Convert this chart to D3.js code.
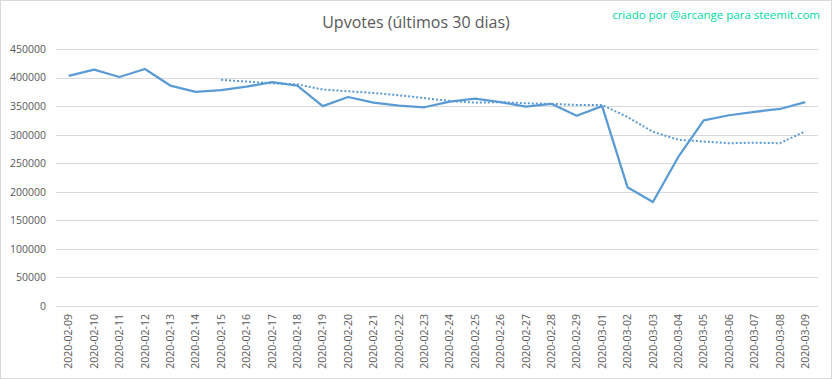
<!DOCTYPE html>
<html>
<head>
<meta charset="utf-8">
<script src="https://cdn.jsdelivr.net/npm/d3@7"></script>
<style>
  body { margin: 0; background: #fff; }
  text { font-family: "Open Sans", "Liberation Sans", sans-serif; }
</style>
</head>
<body>
<div id="chart"></div>
<script>
const dates = [
  "2020-02-09", "2020-02-10", "2020-02-11", "2020-02-12", "2020-02-13",
  "2020-02-14", "2020-02-15", "2020-02-16", "2020-02-17", "2020-02-18",
  "2020-02-19", "2020-02-20", "2020-02-21", "2020-02-22", "2020-02-23",
  "2020-02-24", "2020-02-25", "2020-02-26", "2020-02-27", "2020-02-28",
  "2020-02-29", "2020-03-01", "2020-03-02", "2020-03-03", "2020-03-04",
  "2020-03-05", "2020-03-06", "2020-03-07", "2020-03-08", "2020-03-09"
];

const upvotes = [
  403000, 414000, 401000, 415000, 386000, 375000, 378000, 384000, 392000, 386000,
  350000, 366000, 356000, 351000, 348000, 358000, 363000, 357000, 349000, 354000,
  333000, 350000, 208000, 182000, 261000, 325000, 334000, 340000, 345000, 357000
];

// tendance (moyenne mobile), à partir du 2020-02-15
const trend = [
  null, null, null, null, null, null,
  396000, 393000, 390000, 388000, 379000, 376000, 373000, 369000, 364000, 359000,
  356000, 357000, 355000, 354000, 352000, 352000, 331000, 305000, 291000, 288000,
  285000, 286000, 285000, 306000
];

const yTicks = [0, 50000, 100000, 150000, 200000, 250000, 300000, 350000, 400000, 450000];

const width = 832;
const height = 379;
const margin = { top: 49, right: 14, bottom: 73, left: 56 };

const svg = d3.select("#chart")
  .append("svg")
  .attr("width", width)
  .attr("height", height);

svg.append("rect")
  .attr("x", 0.5).attr("y", 0.5)
  .attr("width", width - 1).attr("height", height - 1)
  .attr("fill", "#fff")
  .attr("stroke", "#d9d9d9");

const x = d3.scaleBand()
  .domain(dates)
  .range([margin.left, width - margin.right]);

const y = d3.scaleLinear()
  .domain([0, 450000])
  .range([height - margin.bottom + 0.5 - 0.5, margin.top]);

// grille
svg.append("g")
  .selectAll("line")
  .data(yTicks)
  .enter()
  .append("line")
  .attr("x1", margin.left)
  .attr("x2", width - margin.right)
  .attr("y1", d => Math.round(y(d)) + 0.5)
  .attr("y2", d => Math.round(y(d)) + 0.5)
  .attr("stroke", "#d9d9d9")
  .attr("stroke-width", 1);

// axe y
const yAxis = svg.append("g")
  .attr("transform", `translate(${margin.left - 10},0)`)
  .call(d3.axisLeft(y).tickValues(yTicks).tickSize(0).tickFormat(d3.format("d")));
yAxis.select(".domain").remove();
yAxis.selectAll("text")
  .attr("x", 0)
  .style("font-size", "10.5px")
  .style("fill", "#595959")
  .style("font-family", "'Open Sans', sans-serif");

// axe x
const xAxis = svg.append("g")
  .attr("transform", `translate(0,${y(0)})`)
  .call(d3.axisBottom(x).tickSize(0));
xAxis.select(".domain").remove();
xAxis.selectAll("text")
  .attr("transform", "rotate(-90)")
  .attr("x", -8)
  .attr("y", 0)
  .attr("dy", "0.35em")
  .style("text-anchor", "end")
  .style("font-size", "10.5px")
  .style("fill", "#595959")
  .style("font-family", "'Open Sans', sans-serif");

const cx = d => x(d) + x.bandwidth() / 2;

const line = d3.line()
  .defined(d => d[1] !== null)
  .x(d => cx(d[0]))
  .y(d => y(d[1]));

svg.append("path")
  .datum(dates.map((d, i) => [d, trend[i]]))
  .attr("fill", "none")
  .attr("stroke", "#5b9bd5")
  .attr("stroke-width", 2)
  .attr("stroke-dasharray", "2,2")
  .attr("d", line);

svg.append("path")
  .datum(dates.map((d, i) => [d, upvotes[i]]))
  .attr("fill", "none")
  .attr("stroke", "#5b9bd5")
  .attr("stroke-width", 2.25)
  .attr("stroke-linejoin", "round")
  .attr("d", line);

// titre
svg.append("text")
  .attr("x", 416)
  .attr("y", 28)
  .attr("text-anchor", "middle")
  .style("font-size", "16px")
  .style("fill", "#595959")
  .text("Upvotes (últimos 30 dias)");

svg.append("text")
  .attr("x", 820)
  .attr("y", 19)
  .attr("text-anchor", "end")
  .style("font-size", "11.5px")
  .style("fill", "#00d9a3")
  .text("criado por @arcange para steemit.com");
</script>
</body>
</html>
